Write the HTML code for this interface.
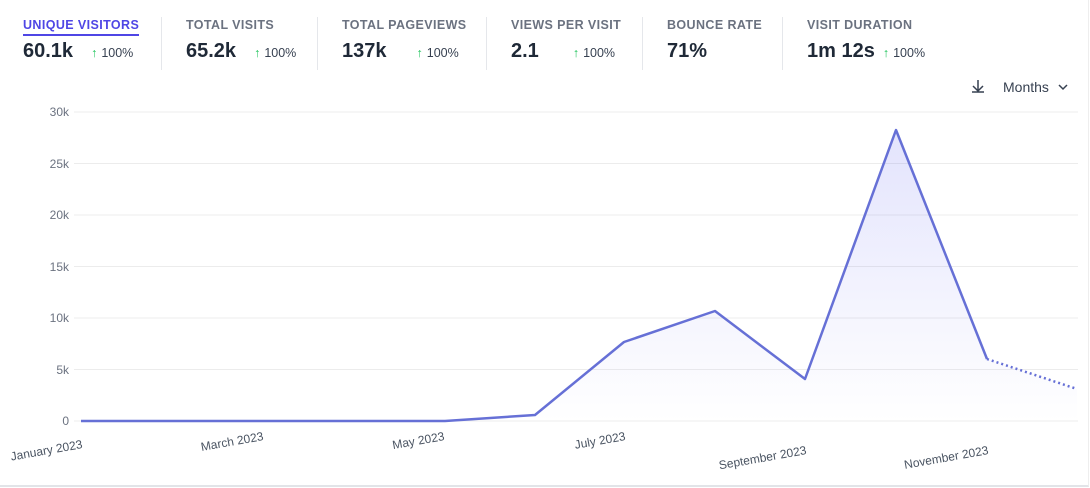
<!DOCTYPE html>
<html><head><style>
body{margin:0;background:#fff;font-family:"Liberation Sans",Arial,sans-serif;}
.card{position:absolute;left:0;top:0;width:1088px;height:485px;border-bottom:2px solid #e2e4e8;border-right:1px solid #eee;background:#fff}
.m{position:absolute;top:16px}
.t{font-size:12.5px;font-weight:bold;color:#6b7280;letter-spacing:0.4px}
.t.a{color:#4f46e5;border-bottom:2px solid #4f46e5;padding-bottom:2px}
.v{font-size:20px;font-weight:bold;color:#1f2937;margin-top:6px;display:flex;align-items:baseline}
.p{font-size:12.5px;font-weight:normal;color:#374151;margin-left:18px}
.p b{color:#22c55e;font-weight:bold;margin-right:4px}
.sep{position:absolute;top:17px;width:1px;height:53px;background:#e5e7eb}
</style></head><body><div class="card">
<div class="m" style="left:23px"><span class="t a">UNIQUE VISITORS</span><div class="v">60.1k<span class="p"><b>↑</b>100%</span></div></div>
<div class="sep" style="left:161px"></div>
<div class="m" style="left:186px"><span class="t">TOTAL VISITS</span><div class="v">65.2k<span class="p"><b>↑</b>100%</span></div></div>
<div class="sep" style="left:317px"></div>
<div class="m" style="left:342px"><span class="t">TOTAL PAGEVIEWS</span><div class="v">137k<span class="p" style="margin-left:30px"><b>↑</b>100%</span></div></div>
<div class="sep" style="left:486px"></div>
<div class="m" style="left:511px"><span class="t">VIEWS PER VISIT</span><div class="v">2.1<span class="p" style="margin-left:34px"><b>↑</b>100%</span></div></div>
<div class="sep" style="left:642px"></div>
<div class="m" style="left:667px"><span class="t">BOUNCE RATE</span><div class="v">71%</div></div>
<div class="sep" style="left:782px"></div>
<div class="m" style="left:807px"><span class="t">VISIT DURATION</span><div class="v">1m 12s<span class="p" style="margin-left:8px"><b>↑</b>100%</span></div></div>
<svg width="1090" height="488" style="position:absolute;left:0;top:0" font-family="Liberation Sans, Arial, sans-serif">
<defs><linearGradient id="g" x1="0" y1="0" x2="0" y2="1"><stop offset="0" stop-color="#6366f1" stop-opacity="0.18"/><stop offset="1" stop-color="#6366f1" stop-opacity="0"/></linearGradient></defs>
<g stroke="#d1d5db" stroke-width="1" fill="none"><path d="M978 80v11M973 86l5 5 5-5M972 92h12" stroke="#374151" stroke-width="1.5"/></g>
<text x="1003" y="92" font-size="14" fill="#374151">Months</text>
<path d="M1059 85l4 4 4-4" stroke="#374151" stroke-width="1.5" fill="none"/>
<g stroke="#ececec" stroke-width="1">
<line x1="74" y1="112" x2="1078" y2="112"/><line x1="74" y1="163.5" x2="1078" y2="163.5"/><line x1="74" y1="215" x2="1078" y2="215"/><line x1="74" y1="266.5" x2="1078" y2="266.5"/><line x1="74" y1="318" x2="1078" y2="318"/><line x1="74" y1="369.5" x2="1078" y2="369.5"/><line x1="74" y1="421" x2="1078" y2="421"/>
</g>
<g font-size="12" fill="#6b7280" text-anchor="end">
<text x="69" y="116">30k</text><text x="69" y="168">25k</text><text x="69" y="219">20k</text><text x="69" y="271">15k</text><text x="69" y="322">10k</text><text x="69" y="374">5k</text><text x="69" y="425">0</text>
</g>
<path d="M81 421L445 421L535 415L624 342L715 311L805 379L896 130L987 359L1077 389L1077 421Z" fill="url(#g)"/>
<polyline points="81,421 445,421 535,415 624,342 715,311 805,379 896,130 987,359" fill="none" stroke="#6670d6" stroke-width="2.5" stroke-linejoin="round"/>
<polyline points="987,359 1077,389" fill="none" stroke="#6670d6" stroke-width="2.5" stroke-dasharray="2,3"/>
<g font-size="12" fill="#4b5563" text-anchor="end">
<text transform="translate(83,448) rotate(-10)">January 2023</text>
<text transform="translate(264,440) rotate(-10)">March 2023</text>
<text transform="translate(445,440) rotate(-10)">May 2023</text>
<text transform="translate(626,440) rotate(-10)">July 2023</text>
<text transform="translate(807,454) rotate(-10)">September 2023</text>
<text transform="translate(989,454) rotate(-10)">November 2023</text>
</g>
</svg>
</div></body></html>
